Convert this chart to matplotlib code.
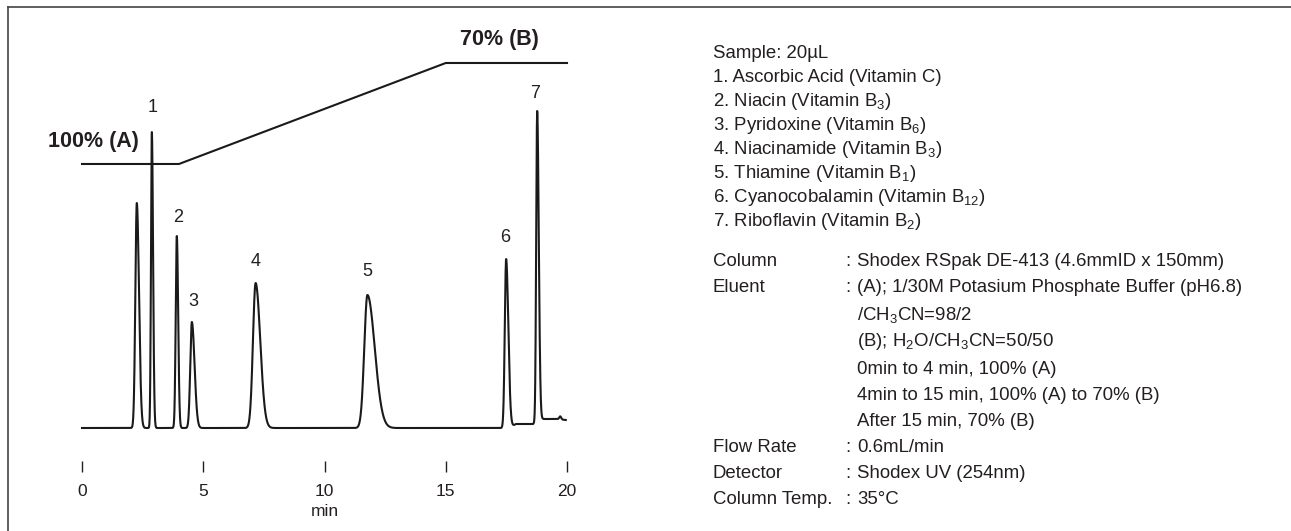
import numpy as np
import matplotlib
matplotlib.use("Agg")
import matplotlib.pyplot as plt

plt.rcParams['font.family'] = ['Liberation Sans', 'DejaVu Sans']
plt.rcParams['mathtext.fontset'] = 'custom'
plt.rcParams['mathtext.rm'] = 'Liberation Sans'
plt.rcParams['mathtext.it'] = 'Liberation Sans:italic'
plt.rcParams['mathtext.bf'] = 'Liberation Sans:bold'

INK = "#231f20"

# peaks (min, signal height, left/right width)
peak_time = [2.26, 2.88, 3.91, 4.53, 7.16, 11.77, 17.49, 18.77, 19.72]
peak_height = [225, 296, 192, 106, 145, 133, 169, 311, 3]
peak_sig_left = [0.06, 0.035, 0.045, 0.065, 0.11, 0.13, 0.055, 0.04, 0.04]
peak_sig_right = [0.09, 0.05, 0.055, 0.11, 0.19, 0.30, 0.09, 0.065, 0.04]

# baseline drift at the end of the run
base_time = [0, 17.6, 17.9, 18.6, 19.0, 19.6, 19.95]
base_level = [0, 0, 4, 4, 9, 9, 8]

# peak numbers
label_text = ["1", "2", "3", "4", "5", "6", "7"]
label_time = [2.93, 3.96, 4.58, 7.18, 11.75, 17.44, 18.68]
label_y = [320, 210, 127, 166, 156, 191, 335]

# gradient program
grad_time = [0, 4, 15, 20]
grad_b = [0, 0, 70, 70]

x_ticks = [0, 5, 10, 15, 20]

# sample / conditions text
sample_lines = [
    "Sample: 20µL",
    "1. Ascorbic Acid (Vitamin C)",
    r"2. Niacin (Vitamin B$_{\mathregular{3}}$)",
    r"3. Pyridoxine (Vitamin B$_{\mathregular{6}}$)",
    r"4. Niacinamide (Vitamin B$_{\mathregular{3}}$)",
    r"5. Thiamine (Vitamin B$_{\mathregular{1}}$)",
    r"6. Cyanocobalamin (Vitamin B$_{\mathregular{12}}$)",
    r"7. Riboflavin (Vitamin B$_{\mathregular{2}}$)",
]
sample_y = [54, 77, 101, 125, 149, 173, 197, 222]

cond_labels = ["Column", "Eluent", "", "", "", "", "", "Flow Rate", "Detector", "Column Temp."]
cond_values = [
    "Shodex RSpak DE-413 (4.6mmID x 150mm)",
    "(A); 1/30M Potasium Phosphate Buffer (pH6.8)",
    r"/CH$_{\mathregular{3}}$CN=98/2",
    r"(B); H$_{\mathregular{2}}$O/CH$_{\mathregular{3}}$CN=50/50",
    "0min to 4 min, 100% (A)",
    "4min to 15 min, 100% (A) to 70% (B)",
    "After 15 min, 70% (B)",
    "0.6mL/min",
    "Shodex UV (254nm)",
    "35°C",
]
cond_y = [262, 287, 315, 342, 369, 395, 421, 448, 474, 500]

W, H = 1291, 531
fig = plt.figure(figsize=(W / 100, H / 100), dpi=100)

# chromatogram axes: pixel 82..567 horizontally, 20..472 vertically
ax = fig.add_axes([82 / W, 1 - 472 / H, 485 / W, 452 / H])
t = np.linspace(0, 19.95, 5000)
signal = np.interp(t, base_time, base_level)
for t0, h, sl, sr in zip(peak_time, peak_height, peak_sig_left, peak_sig_right):
    sig = np.where(t < t0, sl, sr)
    signal = signal + h * np.exp(-0.5 * ((t - t0) / sig) ** 2)
ax.plot(t, signal, color="#1a1a1a", lw=1.5, clip_on=False)

for s, x, y in zip(label_text, label_time, label_y):
    ax.text(x, y, s, ha="center", va="center", fontsize=13, color=INK)

ax.set_xlim(0, 20)
ax.set_ylim(-44, 408)
ax.set_xticks(x_ticks)
ax.set_yticks([])
ax.tick_params(axis="x", direction="in", length=8, width=1, pad=9,
               labelsize=12.5, colors=INK)
for sp in ax.spines.values():
    sp.set_visible(False)
ax.patch.set_visible(False)
ax.text(10, -84, "min", ha="center", va="center", fontsize=12.5, color=INK,
        clip_on=False)

# gradient on its own hidden scale (%B)
gx = ax.twinx()
gx.set_ylim(-213.5, 99.8)
gx.plot(grad_time, grad_b, color="#1a1a1a", lw=1.5, clip_on=False)
gx.axis("off")
ax.text(-1.4, 287, "100% (A)", ha="left", va="center", fontsize=15.5,
        fontweight="bold", color=INK, clip_on=False)
ax.text(15.59, 388, "70% (B)", ha="left", va="center", fontsize=15.5,
        fontweight="bold", color=INK, clip_on=False)

# conditions panel
FS = 13.4
for s, y in zip(sample_lines, sample_y):
    fig.text(713 / W, 1 - y / H, s, ha="left", va="center", fontsize=FS, color=INK)
for lab, val, y in zip(cond_labels, cond_values, cond_y):
    if lab:
        fig.text(713 / W, 1 - y / H, lab, ha="left", va="center", fontsize=FS, color=INK)
        fig.text(845 / W, 1 - y / H, ":", ha="left", va="center", fontsize=FS, color=INK)
    fig.text(857 / W, 1 - y / H, val, ha="left", va="center", fontsize=FS, color=INK)

# frame at left and top
fig.add_artist(plt.Line2D([8 / W, 8 / W], [0, 1 - 7 / H], transform=fig.transFigure,
                          color="#444444", lw=1.2))
fig.add_artist(plt.Line2D([8 / W, 1], [1 - 7 / H, 1 - 7 / H], transform=fig.transFigure,
                          color="#444444", lw=1.2))

fig.savefig("out.png", dpi=100)
